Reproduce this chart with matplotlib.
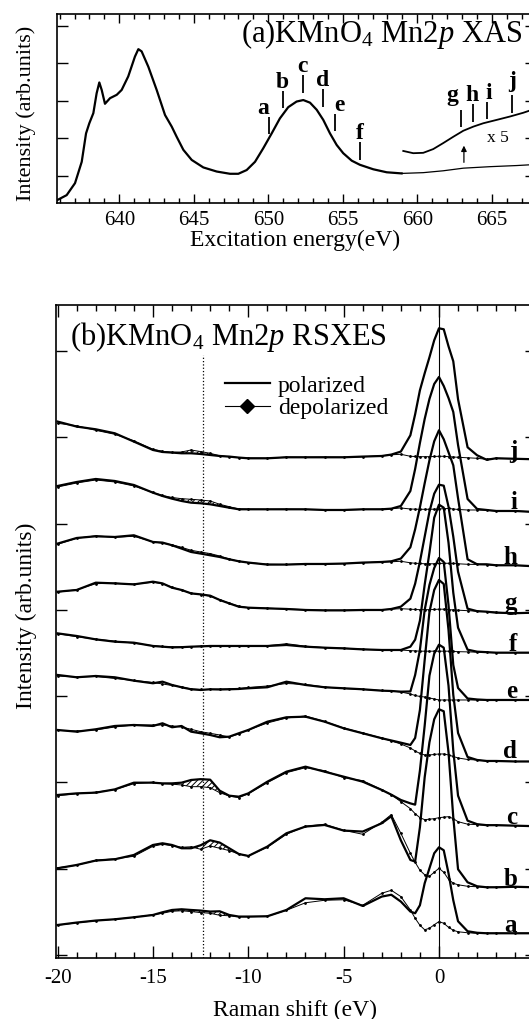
import numpy as np
import matplotlib
matplotlib.use('Agg')
import matplotlib.pyplot as plt
from matplotlib.ticker import MultipleLocator, NullLocator, FuncFormatter
from matplotlib.lines import Line2D

plt.rcParams['font.family'] = ['Liberation Serif', 'DejaVu Serif']
plt.rcParams['mathtext.fontset'] = 'custom'
plt.rcParams['mathtext.rm'] = 'Liberation Serif'
plt.rcParams['mathtext.it'] = 'Liberation Serif:italic'
plt.rcParams['mathtext.bf'] = 'Liberation Serif:bold'
plt.rcParams['axes.unicode_minus'] = False
plt.rcParams['hatch.linewidth'] = 0.7

# ---- panel (a) xas ----
xas_e = [635.85, 636.47, 637.03, 637.48, 637.77, 637.99, 638.26, 638.48, 638.66, 638.82,
         639.04, 639.38, 639.83, 640.16, 640.6, 641.05, 641.28, 641.5, 641.95, 642.51,
         643.07, 643.52, 643.85, 644.3, 644.86, 645.64, 646.54, 647.43, 647.99, 648.55,
         649.11, 649.66, 650.23, 650.78, 651.34, 651.9, 652.35, 652.8, 653.25, 653.69,
         654.14, 654.59, 655.03, 655.6, 656.15, 657.05, 657.95, 658.95, 660.4, 661.74,
         663.09, 664.88, 666.67, 668.0]
xas_i = [0.35, 0.48, 0.80, 1.37, 2.13, 2.40, 2.67, 3.20, 3.49, 3.29,
         2.92, 3.07, 3.16, 3.29, 3.65, 4.18, 4.38, 4.32, 3.91, 3.29,
         2.62, 2.31, 2.04, 1.69, 1.42, 1.22, 1.11, 1.05, 1.05, 1.15,
         1.37, 1.73, 2.13, 2.53, 2.83, 2.98, 3.02, 2.95, 2.76, 2.49,
         2.13, 1.82, 1.60, 1.40, 1.29, 1.17, 1.09, 1.06, 1.08, 1.13,
         1.20, 1.24, 1.27, 1.30]
# x5 magnified tail
x5_e = [659.06, 659.73, 660.4, 661.07, 661.74, 662.42, 663.09, 663.76, 664.43, 665.33,
        666.22, 667.11, 668.0]
x5_i = [1.66, 1.60, 1.61, 1.71, 1.87, 2.04, 2.20, 2.31, 2.40, 2.49, 2.58, 2.68, 2.80]

exc_labels = ['a', 'b', 'c', 'd', 'e', 'f', 'g', 'h', 'i', 'j']
exc_e = [650.07, 651.0, 652.31, 653.69, 654.48, 656.15, 662.91, 663.76, 664.7, 666.34]
arrow_e = 663.13

# ---- panel (b) rsxes ----
shift = [-20, -19, -18, -17, -16, -15, -14.5, -14, -13.5, -13, -12.5, -12, -11.5, -11,
         -10.5, -10, -9, -8, -7, -6, -5, -4, -3,
         -2.5, -2, -1.5, -1.25, -1, -0.75, -0.5, -0.25, 0, 0.25, 0.5, 0.75, 1, 1.5, 2,
         2.5, 3, 4, 5]

pol = {
    'j': [37.7, 32.7, 30, 26, 17.7, 9.3, 7.3, 6.7, 6, 6, 5.3, 4.3, 3.3, 2.7, 1.7, 1, 1, 2, 2, 2, 2, 2.7, 3.3,
          4.7, 7.7, 24, 45, 69, 86, 102, 119, 131, 130, 113, 98, 60, 12, 4, -0.5, 1, 0.5, 0],
    'i': [25, 29, 32, 30, 26, 18.3, 15, 12.3, 10, 8.3, 7.7, 6.7, 5, 3.3, 1.7, 1.7, 1.7, 1.7, 1.7, 1, 1, 1.7, 1.7,
          2.3, 5, 20, 42, 68, 92, 112, 127, 134, 125, 113, 99, 66, 12, 2, 1, 0, 0, -1],
    'h': [21.7, 27.3, 29, 28.3, 30, 23.3, 22.7, 20, 16.7, 13.3, 11.7, 10, 8.3, 6, 4, 2.7, 0.7, 0.7, 1.3, 1.3, 1.7, 2.7, 3.3,
          4, 6.7, 18, 36, 58, 82, 105, 124, 135, 126, 113, 100, 67, 6, 1, 1, 0, 0, -1],
    'g': [20, 21.7, 29, 28.3, 27.3, 30, 28.3, 24, 21.7, 18.3, 17.3, 16, 11.7, 8.3, 5, 4, 3.3, 2.7, 1.7, 1.3, 1.3, 1.7, 1.7,
          2.7, 5, 13, 28, 50, 75, 100, 118, 127, 126, 105, 75, 40, 3, 0.5, 0, -1, -1.5, -1],
    'f': [19.3, 16.7, 13.3, 11, 10, 6.7, 6, 5.3, 5.5, 6, 6.3, 6.7, 6.7, 6.7, 6.7, 6.7, 6.7, 7.7, 6, 5, 4.3, 3.3, 2.7,
          2.7, 2.7, 6, 13, 32, 68, 100, 135, 148, 145, 110, 60, 25, 3, 1, 0.5, 0, 0, 0],
    'e': [25, 22.7, 24, 22.7, 19.3, 16.7, 18.3, 15, 12.7, 10.7, 10, 10.7, 10.5, 10.7, 11, 11.7, 12.7, 18.3, 15, 12.7, 11.7, 10.7, 9.3,
          9, 8.3, 8.5, 25, 50, 90, 115, 132, 142, 138, 95, 35, 12, 1.5, 0.5, 0, 0, 0, 0],
    'd': [30, 28.3, 30.7, 34, 35, 34, 36.7, 32.7, 34, 28.3, 26.7, 25, 22.7, 23.3, 26.7, 30, 38.3, 42.7, 43.3, 38.3, 31.7, 26.7, 21.7,
          19.5, 17.3, 15, 22, 50, 100, 148, 170, 180, 176, 130, 65, 27, 3, 0, -1, -1, -1.5, -1.5],
    'c': [30.7, 32.3, 33, 36.3, 43, 43, 42.3, 42.3, 43, 45.7, 46.5, 46, 35, 30, 29, 32.3, 44, 54, 59, 54, 49, 44, 35.7,
          31, 25.7, 22.3, 21, 55, 100, 150, 172, 181, 178, 140, 75, 30, 5, 1.5, 0.5, 0.5, 0, -0.5],
    'b': [19, 22.3, 26.7, 28, 32.3, 42.3, 44, 42.3, 39, 39, 42, 47, 44.7, 39, 33.3, 31.3, 40.7, 54, 60.7, 62.3, 56.7, 55.7, 64,
          71, 47, 27.3, 25.7, 60, 110, 145, 168, 178, 176, 135, 70, 18, 5, 1, 0, 0, 0.5, 0],
    'a': [8.3, 10.7, 12.7, 14, 16, 18.3, 21, 23.3, 24, 23.3, 22.7, 21.7, 22, 18.3, 16.7, 16.7, 17, 23.3, 35, 34, 35, 27.3, 36.7,
          38.5, 31.7, 21.7, 20, 28, 50, 65, 80, 86, 83, 60, 33, 12, 2, 0.5, 0, 0, 0, 0],
}

depol = {
    'j': [36, 33.5, 29, 25, 18.5, 10, 8, 7, 7.3, 9.3, 7.7, 6, 3.5, 2.5, 1.7, 1.2, 1, 2.2, 2, 2.2, 2, 2.5, 3.5,
          4.5, 5, 3, 2.8, 2.6, 2.6, 2.6, 2.8, 3, 3, 2.6, 2.3, 2, 1.5, 1, 0, 1, 0.5, 0],
    'i': [24, 28, 31, 29, 25, 18.5, 15.5, 13.5, 12.3, 11.7, 11, 10, 6.7, 4.3, 2, 1.7, 1.5, 1.7, 1.5, 1.2, 1, 1.5, 1.7,
          2.2, 3, 2, 1.8, 1.7, 1.7, 1.7, 1.8, 2, 2.3, 2.5, 2, 1.5, 1, 1, 0.7, 0, 0, -1],
    'h': [21, 27, 29.5, 28, 29, 23.5, 22, 20.5, 18, 15, 13.3, 11.7, 9.3, 6.3, 4, 2.7, 1, 0.8, 1.3, 1.5, 1.7, 2.5, 3.3,
          3.5, 4, 2.5, 2, 1.8, 1.5, 1.5, 1.5, 1.8, 2, 2, 1.8, 1.5, 1, 0.8, 0.5, 0, 0, -1],
    'g': [19.5, 22, 28, 28.5, 27.5, 29.5, 28, 24.5, 21.5, 18.5, 17, 15.5, 12, 8.5, 5.5, 4, 3.5, 2.7, 2, 1.5, 1.5, 1.7, 2,
          2.5, 3, 2.5, 2.2, 2, 2, 2, 2.2, 2.5, 2.5, 2, 1.8, 1.5, 1, 0.5, 0, -0.5, -1.5, -1],
    'f': [19, 16, 13.5, 11.5, 9.5, 7, 6.2, 5.8, 5.8, 6, 6.5, 6.5, 6.8, 6.8, 6.5, 6.5, 7, 9, 6.5, 5, 4.5, 3.5, 2.7,
          2.7, 2.7, 2, 1.8, 1.5, 1.5, 1.5, 1.5, 1.5, 1.5, 1.5, 1.2, 1, 0.8, 0.5, 0.3, 0, 0, 0],
    'e': [24, 23, 23.5, 21.5, 19.5, 17.5, 16, 14.5, 13, 11, 10.5, 10.5, 10.8, 11, 11.5, 12.5, 14, 16.5, 15.5, 13, 11.5, 10.5, 9.5,
          9, 8, 6, 4.5, 3.5, 3, 2, 1, 0, 0, 0, 0, 0, 0, 0, 0, 0, 0, 0],
    'd': [29.5, 29, 30, 33, 35, 35, 35, 34, 33, 30.7, 28.3, 26.7, 25, 23, 26, 30, 37, 42, 44, 38.5, 32, 27, 22,
          19, 16, 12, 9, 6.5, 5, 5, 5.5, 6, 6, 5, 3.5, 2, 0.5, 0, -1, -1, -1.5, -1.5],
    'c': [30, 32, 33.5, 36, 42, 43.5, 42, 41.5, 40.7, 39, 39, 38, 33, 29.7, 28, 32, 43, 53, 58, 55, 48, 45, 36,
          31, 24, 17, 12, 8, 6, 6.5, 7, 8, 8.5, 9, 7, 4, 1.5, 1, 0.5, 0.5, 0, -0.5],
    'b': [19.5, 22, 27, 28.5, 31, 41, 43, 41.5, 40, 40.5, 38, 41.3, 39, 36.7, 33.3, 31.5, 40, 53, 61, 63, 57, 53, 65,
          72.7, 54, 34, 25, 17, 12.5, 11, 15, 19, 15, 8, 4, 2.5, 1, 0.5, 0, 0, 0.5, 0],
    'a': [8, 10.5, 12.5, 14, 16, 18.5, 20, 22, 22.5, 21.7, 20.7, 20, 18, 17.5, 16.5, 16.5, 17, 23, 30.5, 33, 33.5, 28, 40,
          43, 36.7, 23.3, 15, 8, 3.5, 5, 8.5, 11.7, 10, 6, 3, 1.5, 0.5, 0, 0, 0, 0, 0],
}

# vertical offsets of each spectrum (baselines)
offsets = {'a': 21.7, 'b': 67.7, 'c': 129.3, 'd': 195, 'e': 255, 'f': 302.3,
           'g': 343.3, 'h': 389.7, 'i': 444, 'j': 495.7}

# layout tweaks for the (a) markers
tick_gap = [0.09, 0.15, 0.2, 0.35, 0.29, 0.13, 0.13, 0.13, 0.08, 0.08]
lab_dx = [-6, -1, 0, -1, 4, 0, -8, -1.6, 1.7, 0]
lab_dy = [2.5, 3, 3, 3, 3, 3, 9, 3, 3, 8]

fig = plt.figure(figsize=(5.29, 10.19), dpi=100)
ax1 = fig.add_axes([0.1083, 0.8011, 0.905, 0.1852])
ax2 = fig.add_axes([0.1053, 0.0596, 0.908, 0.6411])

# ---------- (a) ----------
e = np.array(xas_e)
it = np.array(xas_i)
thick = e <= 658.95
ax1.plot(e[thick], it[thick], color='k', lw=1.6)
ax1.plot(e[e >= 658.95], it[e >= 658.95], color='k', lw=0.9)
ax1.plot(x5_e, x5_i, color='k', lw=1.3)

for k, (lab, en) in enumerate(zip(exc_labels, exc_e)):
    if en < 659:
        yc = np.interp(en, xas_e, xas_i)
    else:
        yc = np.interp(en, x5_e, x5_i)
    y0 = yc + tick_gap[k]
    ax1.vlines(en, y0, y0 + 0.47, color='k', lw=1.3)
    ax1.annotate(lab, (en, y0 + 0.47), xytext=(lab_dx[k] * 0.72, lab_dy[k] * 0.72),
                 textcoords='offset points', ha='center', va='baseline',
                 fontsize=17, fontweight='bold')

ya = np.interp(arrow_e, xas_e, xas_i) + 0.08
yb = np.interp(arrow_e, x5_e, x5_i) - 0.33
ax1.annotate('', xy=(arrow_e, yb), xytext=(arrow_e, ya),
             arrowprops=dict(arrowstyle='-|>', color='k', lw=0.9, mutation_scale=8))
ax1.text(665.44, 2.0, 'x 5', fontsize=12.5, ha='center', va='center')

ax1.set_xlim(635.84, 667.97)
ax1.set_ylim(0.278, 5.32)
ax1.xaxis.set_major_locator(MultipleLocator(5))
ax1.xaxis.set_minor_locator(MultipleLocator(1))
ax1.yaxis.set_major_locator(MultipleLocator(1))
ax1.yaxis.set_minor_locator(NullLocator())
ax1.tick_params(which='both', direction='in', top=True, right=True, width=1.0,
                labelleft=False, labelsize=15)
ax1.tick_params(axis='x', which='major', length=6.5, pad=5.8)
ax1.tick_params(axis='x', which='minor', length=3.6)
ax1.tick_params(axis='y', which='major', length=7.7)
for s in ax1.spines.values():
    s.set_linewidth(1.2)
fig.text(295 / 529, 1 - 240 / 1019, 'Excitation energy(eV)', fontsize=17,
         ha='center', va='center')
fig.text(26 / 529, 1 - 113 / 1019, 'Intensity (arb.units)', fontsize=16,
         rotation=90, ha='center', va='center')
fig.text(240.7 / 529, 1 - 41.7 / 1019, '(a)KMnO$_4$ Mn2$p$ XAS', fontsize=22,
         ha='left', va='baseline')

# ---------- (b) ----------
x = np.array(shift)
hatch_zone = (x >= -14) & (x <= -10.5)
for lab in exc_labels:
    off = offsets[lab]
    p = np.array(pol[lab]) + off
    d = np.array(depol[lab]) + off
    ax2.fill_between(x, p, d, where=hatch_zone, facecolor='none', edgecolor='k',
                     hatch='//////', lw=0)
    ax2.plot(x, d, color='k', lw=0.7, marker='.', ms=2)
    ax2.plot(x, p, color='k', lw=1.6)
    ax2.text(4.1, off + 1.5, lab, ha='right', va='baseline', fontsize=18,
             fontweight='bold')

ax2.axvline(0, color='k', lw=0.8)
ax2.vlines(-12.4, -3.3, 600, color='k', lw=0.9, linestyles=':')

ax2.set_xlim(-20.1, 5.09)
ax2.set_ylim(-3.3, 650)
ax2.xaxis.set_major_locator(MultipleLocator(5))
ax2.xaxis.set_minor_locator(MultipleLocator(1))
# the label at +5 falls outside the cropped picture
ax2.xaxis.set_major_formatter(FuncFormatter(lambda v, p: '' if v > 4 else f'{v:g}'))
ax2.yaxis.set_major_locator(MultipleLocator(86.25))
ax2.yaxis.set_minor_locator(NullLocator())
ax2.tick_params(which='both', direction='in', top=True, right=True, width=1.0,
                labelleft=False, labelsize=15)
ax2.tick_params(axis='x', which='major', length=8.4, pad=7.6)
ax2.tick_params(axis='x', which='minor', length=4.3)
ax2.tick_params(axis='y', which='major', length=8)
for s in ax2.spines.values():
    s.set_linewidth(1.2)

handles = [Line2D([], [], color='k', lw=1.6),
           Line2D([], [], color='k', lw=0.8, marker='D', ms=7.5)]
ax2.legend(handles, ['polarized', 'depolarized'], loc='upper left',
           bbox_to_anchor=(225 / 529, 1 - 375 / 1019), bbox_transform=fig.transFigure,
           frameon=False, fontsize=17, handlelength=1.9, handletextpad=0.35,
           labelspacing=0.05, borderpad=0, borderaxespad=0)

fig.text(295 / 529, 1 - 1016 / 1019, 'Raman shift (eV)', fontsize=17,
         ha='center', va='baseline')
fig.text(26 / 529, 1 - 616 / 1019, 'Intensity (arb.units)', fontsize=17,
         rotation=90, ha='center', va='center')
fig.text(70.5 / 529, 1 - 345 / 1019, '(b)KMnO$_4$ Mn2$p$ RSXES', fontsize=22,
         ha='left', va='baseline')

fig.savefig('out.png', dpi=100)
